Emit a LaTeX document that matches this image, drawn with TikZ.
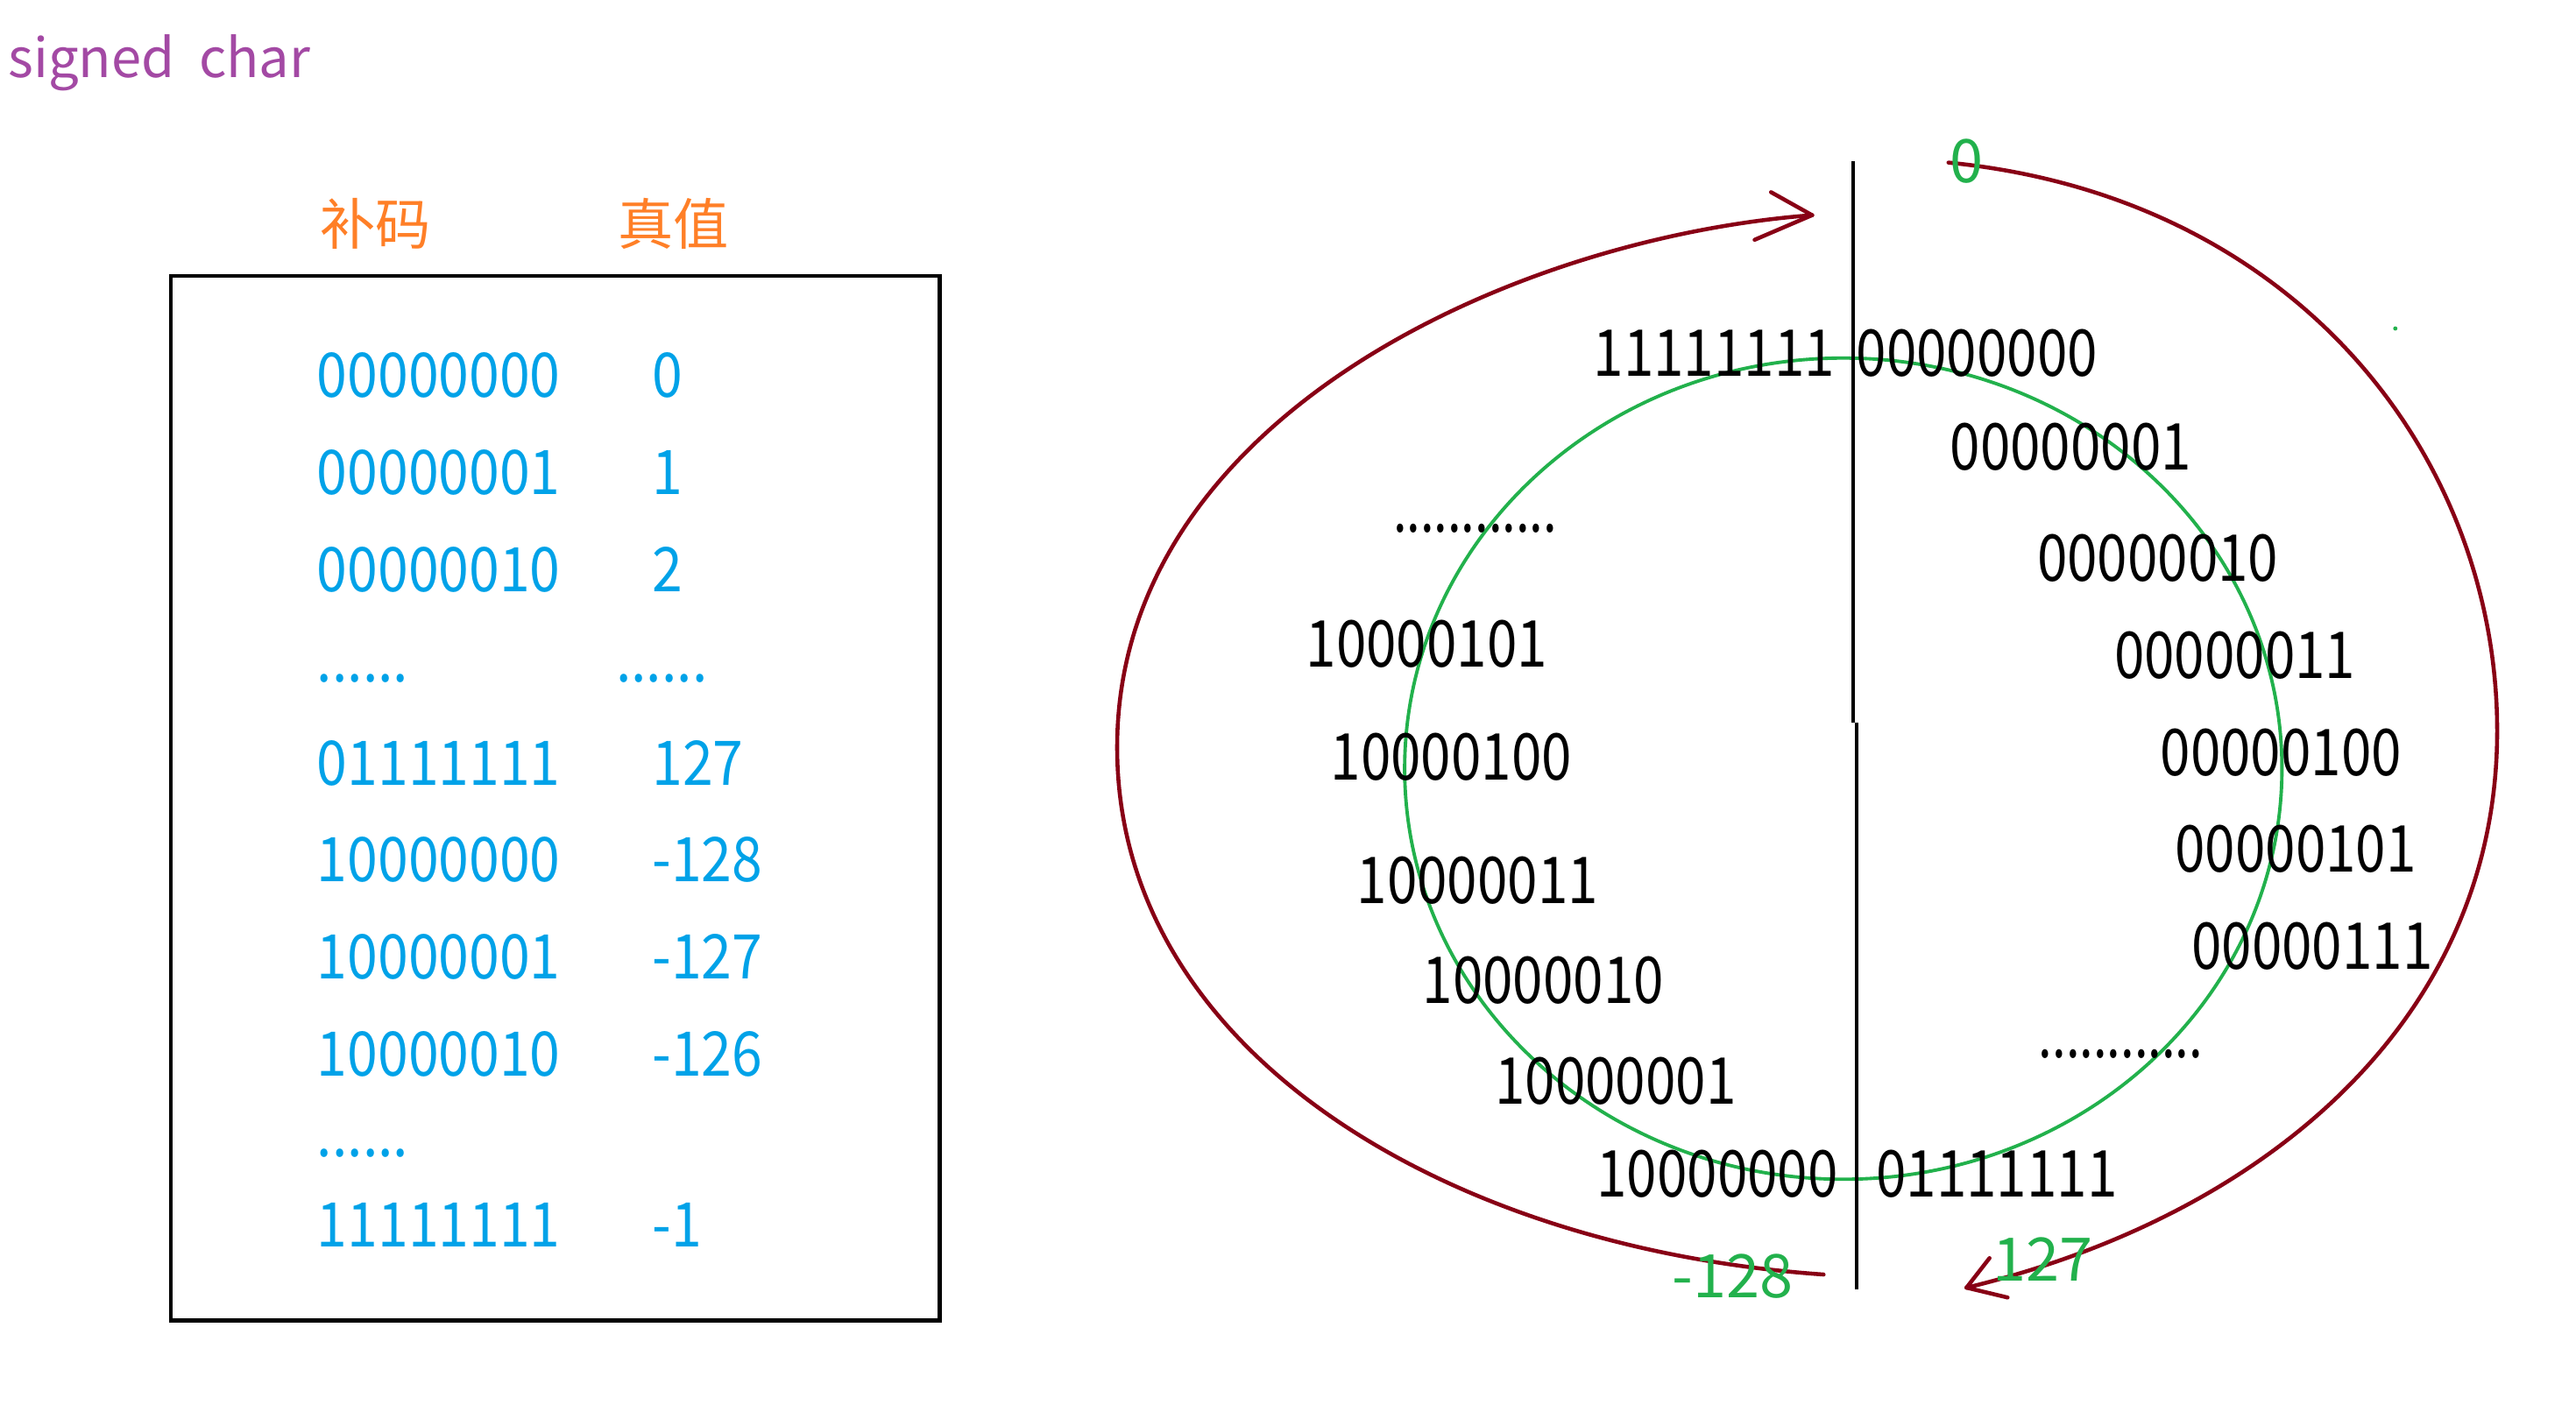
\documentclass[tikz,border=0pt]{standalone}
\usepackage{fontspec}
\setmainfont{Noto Sans CJK SC}
\newfontfamily\cjk{Noto Sans CJK SC}
\definecolor{cpurple}{HTML}{A349A4}
\definecolor{corange}{HTML}{FF7F27}
\definecolor{cblue}{HTML}{00A2E8}
\definecolor{cgreen}{HTML}{22B14C}
\definecolor{cred}{HTML}{880015}
\newcommand{\bk}[1]{\scalebox{0.84}[1]{#1}}
\newcommand{\bl}[1]{\scalebox{0.89}[1]{#1}}
\newcommand{\dt}[1]{\scalebox{0.76}[1]{#1}}
\begin{document}
\begin{tikzpicture}[x=0.01875cm,y=-0.01875cm,
  every node/.style={inner sep=0pt,outer sep=0pt},
  blk/.style={anchor=base west,text=black,font=\fontsize{21}{25}\selectfont},
  blu/.style={anchor=base west,text=cblue,font=\fontsize{20}{24}\selectfont},
  grn/.style={anchor=base west,text=cgreen,font=\fontsize{19.5}{23}\selectfont},
  hdr/.style={anchor=west,text=corange,font=\cjk\fontsize{18}{22}\selectfont},
  loop/.style={draw=cred,line width=1.3pt,line cap=round},
  ring/.style={draw=cgreen,line width=1.1pt}]
\useasboundingbox (0,0) rectangle (1568,855);
% title
\node[anchor=base west,text=cpurple,font=\fontsize{17.5}{21}\selectfont] (title) at (5,47) {signed\ \ char};
% headers
\node[hdr] (hbm) at (195,136) {补码};
\node[hdr] (hzz) at (376,136) {真值};
% table box
\draw[line width=1.4pt] (104,168) rectangle (572,804);
% table rows
\node[blu] (b1) at (193,242) {\bl{00000000}}; \node[blu] (v1) at (397,242) {\bl{0}};
\node[blu] (b2) at (193,301) {\bl{00000001}}; \node[blu] (v2) at (397,301) {\bl{1}};
\node[blu] (b3) at (193,360) {\bl{00000010}}; \node[blu] (v3) at (397,360) {\bl{2}};
\node[blu] (bd1) at (193,415) {\bl{......}}; \node[blu] (vd1) at (375,415) {\bl{......}};
\node[blu] (b4) at (193,478) {\bl{01111111}}; \node[blu] (v4) at (397,478) {\bl{127}};
\node[blu] (b5) at (193,537) {\bl{10000000}}; \node[blu] (v5) at (397,537) {\bl{-128}};
\node[blu] (b6) at (193,596) {\bl{10000001}}; \node[blu] (v6) at (397,596) {\bl{-127}};
\node[blu] (b7) at (193,655) {\bl{10000010}}; \node[blu] (v7) at (397,655) {\bl{-126}};
\node[blu] (bd2) at (193,704) {\bl{......}};
\node[blu] (b8) at (193,759) {\bl{11111111}}; \node[blu] (v8) at (397,759) {\bl{-1}};
% green ring
\draw[ring] (1122,468) ellipse [x radius=267,y radius=250];
% vertical divider
\draw[line width=1pt] (1128,98) -- (1128,440);
\draw[line width=1pt] (1130,440) -- (1130,785);
% red loops
\coordinate (rs) at (1186,99);
\coordinate (rm) at (1520,445);
\coordinate (re) at (1197,784);
\draw[loop] (rs) .. controls (1400,120) and (1520,280) .. (rm)
  .. controls (1520,620) and (1380,740) .. (re);
\draw[loop] (re) -- (1211,766);
\draw[loop] (re) -- (1222,790);
\coordinate (ls) at (1110,776);
\coordinate (lm) at (680,455);
\coordinate (le) at (1103,131);
\draw[loop] (ls) .. controls (880,760) and (680,640) .. (lm)
  .. controls (680,255) and (920,145) .. (le);
\draw[loop] (le) -- (1078,117);
\draw[loop] (le) -- (1068,146);
% black labels
\node[blk] (n255) at (970,229) {\bk{11111111}};
\node[blk] (n0) at (1130,229) {\bk{00000000}};
\node[blk] (n1) at (1187,286) {\bk{00000001}};
\node[blk] (n2) at (1240,354) {\bk{00000010}};
\node[blk] (n133) at (795,406) {\bk{10000101}};
\node[blk] (n3) at (1287,413) {\bk{00000011}};
\node[blk] (n132) at (810,475) {\bk{10000100}};
\node[blk] (n4) at (1315,472) {\bk{00000100}};
\node[blk] (n131) at (826,550) {\bk{10000011}};
\node[blk] (n5) at (1324,531) {\bk{00000101}};
\node[blk] (n130) at (866,611) {\bk{10000010}};
\node[blk] (n7) at (1334,590) {\bk{00000111}};
\node[blk] (n129) at (910,672) {\bk{10000001}};
\node[blk] (n128) at (972,729) {\bk{10000000}};
\node[blk] (n127) at (1142,729) {\bk{01111111}};
\node[blk] (dl) at (848,324) {\dt{............}};
\node[blk] (dr) at (1241,644) {\dt{............}};
% green labels
\node[grn] (g0) at (1187,111) {0};
\node[grn] (gm128) at (1018,790) {-128};
\node[grn] (g127) at (1213,780) {127};
\fill[cgreen] (1458,200) circle (1.3);
\end{tikzpicture}
\end{document}
